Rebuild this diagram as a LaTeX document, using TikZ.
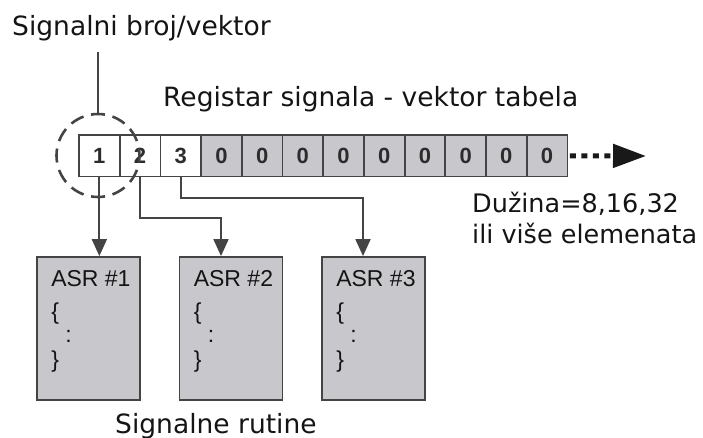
\documentclass[tikz,border=0pt]{standalone}
\usepackage{fontspec}
\setmainfont{DejaVu Sans}
\newfontfamily\arialf{Liberation Sans}
\usetikzlibrary{arrows.meta,calc}
\definecolor{cellgray}{RGB}{200,200,204}
\definecolor{linec}{RGB}{68,68,68}
\definecolor{txtc}{RGB}{20,20,20}
\begin{document}
\begin{tikzpicture}[x=1pt,y=-1pt,
  cell/.style={draw=linec, line width=1.8pt, minimum width=40.7pt, minimum height=41.5pt, inner sep=0pt,
    font=\arialf\bfseries\fontsize{22}{22}\selectfont, text=txtc!90},
  asr/.style={draw=linec, fill=cellgray, line width=1.8pt, minimum width=103pt, minimum height=143pt, inner sep=0pt},
  asrtext/.style={anchor=north west, inner sep=0pt, align=left, text=txtc,
    font=\arialf\fontsize{23}{26}\selectfont},
  conn/.style={draw=linec, line width=1.8pt, -{Triangle[length=17pt,width=15pt]}},
  lbl/.style={anchor=base west, inner sep=0pt, text=txtc, font=\fontsize{26.5}{30}\selectfont}
]
\useasboundingbox (0,0) rectangle (703,438);

% register cells
\foreach \i in {1,...,12}{
  \ifnum\i<4
    \node[cell, fill=white] (c\i) at ({99.35+(\i-1)*40.7},155.8) {\i};
  \else
    \node[cell, fill=cellgray] (c\i) at ({99.35+(\i-1)*40.7},155.8) {0};
  \fi
}

% dashed circle around first cells
\node[circle, draw=linec, line width=2.6pt, minimum size=83pt, inner sep=0pt,
  dash pattern=on 14pt off 7.73pt, dash phase=7pt] (circ) at (98,155.5) {};

% labels
\node[lbl] (signum) at (12,36) {Signalni broj/vektor};
\node[lbl] (reg) at (163,107) {Registar signala - vektor tabela};
\node[lbl, font=\fontsize{25.5}{30}\selectfont] (duz1) at (472,213) {Dužina=8,16,32};
\node[lbl, font=\fontsize{25.5}{30}\selectfont] (duz2) at (472,243) {ili više elemenata};
\node[lbl] (rut) at (115,433) {Signalne rutine};

\draw[linec, line width=1.8pt] (circ.north) -- ++(0,-61);

% dotted continuation arrow
\coordinate (endp) at (646,156);
\draw[black!90, line width=5pt, dash pattern=on 6pt off 5.5pt, dash phase=-1.5pt,
  -{Triangle[length=33pt,width=23pt]}] (c12.east) -- (endp);

% ASR boxes
\node[asr] (a1) at (88.5,328.5) {};
\node[asr] (a2) at (231,328.5) {};
\node[asr] (a3) at (373.5,328.5) {};

\foreach \k in {1,2,3}{
  \node[asrtext] (t\k) at ($(a\k.north west)+(15,14)$)
    {ASR \#\k\\[7pt]\{\\[-3pt]\hspace*{14pt}:\\[-1pt]\}};
}

% connectors
\draw[conn] (c1.south) -- (c1.south |- a1.north);
\draw[conn] (c2.south) -- ++(0,40.5) -| ($(a2.north)+(-10,0)$);
\draw[conn] (c3.south) -- ++(0,20.5) -| ($(a3.north)+(-10.5,0)$);
\end{tikzpicture}
\end{document}
